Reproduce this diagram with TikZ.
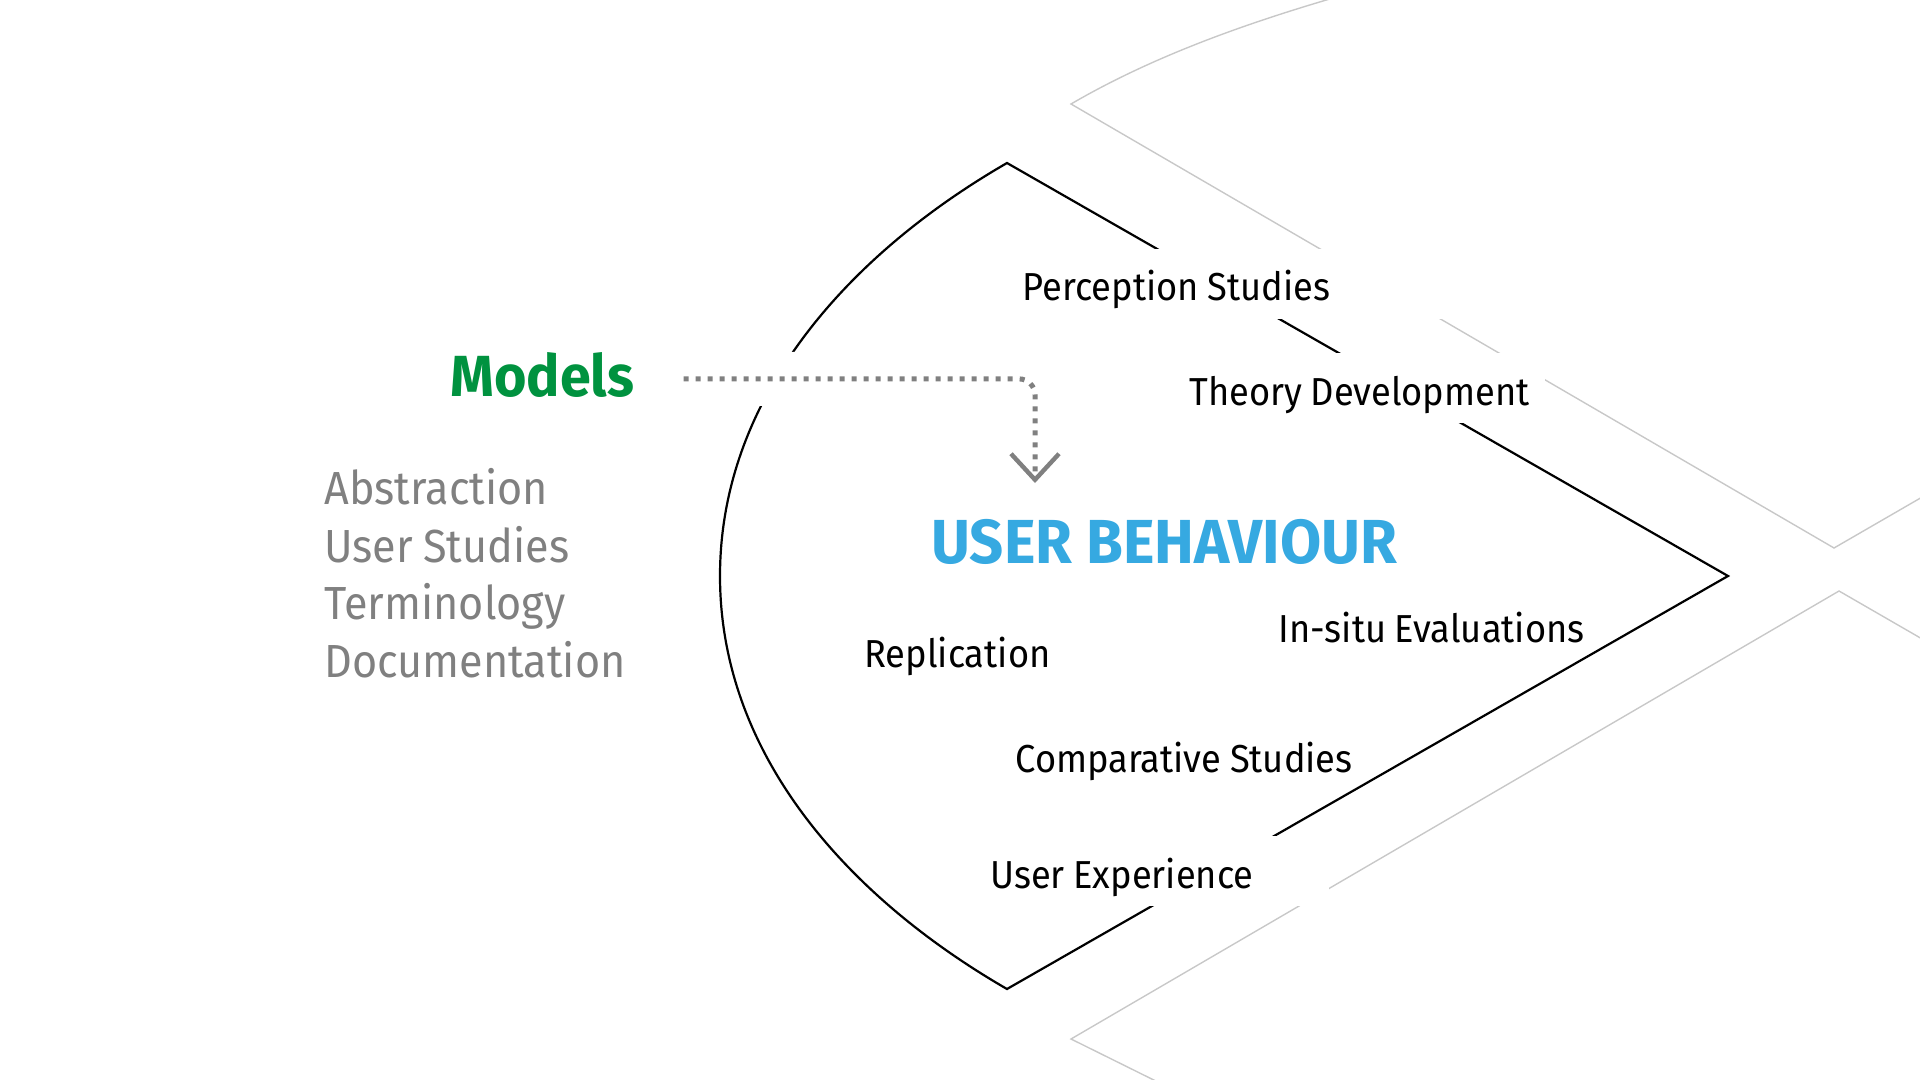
\documentclass[tikz,border=0pt]{standalone}
\usepackage{fontspec}
\setmainfont{Fira Sans}[FakeStretch=0.93, WordSpace=0.9]
\newfontfamily\headfont{Fira Sans}[FakeStretch=0.96]
\usetikzlibrary{arrows.meta}
\definecolor{modelgreen}{RGB}{0,146,63}
\definecolor{behblue}{RGB}{54,169,225}
\definecolor{listgray}{RGB}{128,128,128}
\definecolor{ghostgray}{RGB}{200,200,200}
\tikzstyle{frame} = [draw=black, line width=1.1pt, line join=miter]
\tikzstyle{ghost} = [draw=ghostgray, line width=0.7pt]
\tikzstyle{item} = [font=\fontsize{19.5}{23}\selectfont, inner xsep=6pt, inner ysep=0pt, text height=26pt, text depth=9pt, align=flush left, anchor=base west]
\tikzstyle{mask} = [fill=white]
\tikzstyle{topic} = [font=\fontsize{23.2}{28}\selectfont, text=listgray, inner sep=0pt, anchor=base west]
\tikzstyle{title} = [inner sep=0pt, anchor=base west]
\tikzstyle{line} = [draw=listgray, line width=2.5pt, dash pattern=on 2.5pt off 3.5pt, rounded corners=8pt, -{Straight Barb[length=13pt, width=24pt, line width=2.2pt]}, preaction={draw=white, solid, line width=27pt, arrows=-}]

\begin{document}
\begin{tikzpicture}[x=0.5pt, y=-0.5pt]
	\clip (0,0) rectangle (1920,1080);

	% background frame
	\draw[ghost] (1340,-4) .. controls (1240,25) and (1150,58) .. (1071,104) -- (1834,548) -- (1962,474);
	\draw[ghost] (1178,1092) -- (1071,1039) -- (1839,591) -- (1962,662);

	% main frame
	\draw[frame] (1728,576) -- (1007,163) .. controls (851,253) and (720,395) .. (720,576) .. controls (720,757) and (851,899) .. (1007,989) -- cycle;

	\node[title, text=modelgreen, font=\headfont\bfseries\fontsize{29}{34}\selectfont] (models) at (450,396) {Models};

	\node[topic] (abstraction) at (324,504) {Abstraction};
	\node[topic] (userstudies) at (324,562) {User Studies};
	\node[topic] (terminology) at (324,619) {Terminology};
	\node[topic] (documentation) at (324,677) {Documentation};

	\node[title, text=behblue, font=\headfont\bfseries\fontsize{31.1}{36}\selectfont] (behaviour) at (931,563) {USER BEHAVIOUR};

	\coordinate (tip) at (1035,483);
	\path[line] ([xshift=24.5pt, yshift=-2.2pt]models.east) -| (tip);

	\node[item, mask, text width=208pt] (perception) at (1010,301) {Perception Studies};
	\node[item, mask, text width=172pt] (theory) at (1177,405) {Theory Development};
	\node[item] (insitu) at (1266,642) {In-situ Evaluations};
	\node[item] (replication) at (852,667) {Replication};
	\node[item] (comparative) at (1003,772) {Comparative Studies};
	\node[item, mask, text width=163.5pt] (experience) at (978,888) {User Experience};
\end{tikzpicture}
\end{document}
